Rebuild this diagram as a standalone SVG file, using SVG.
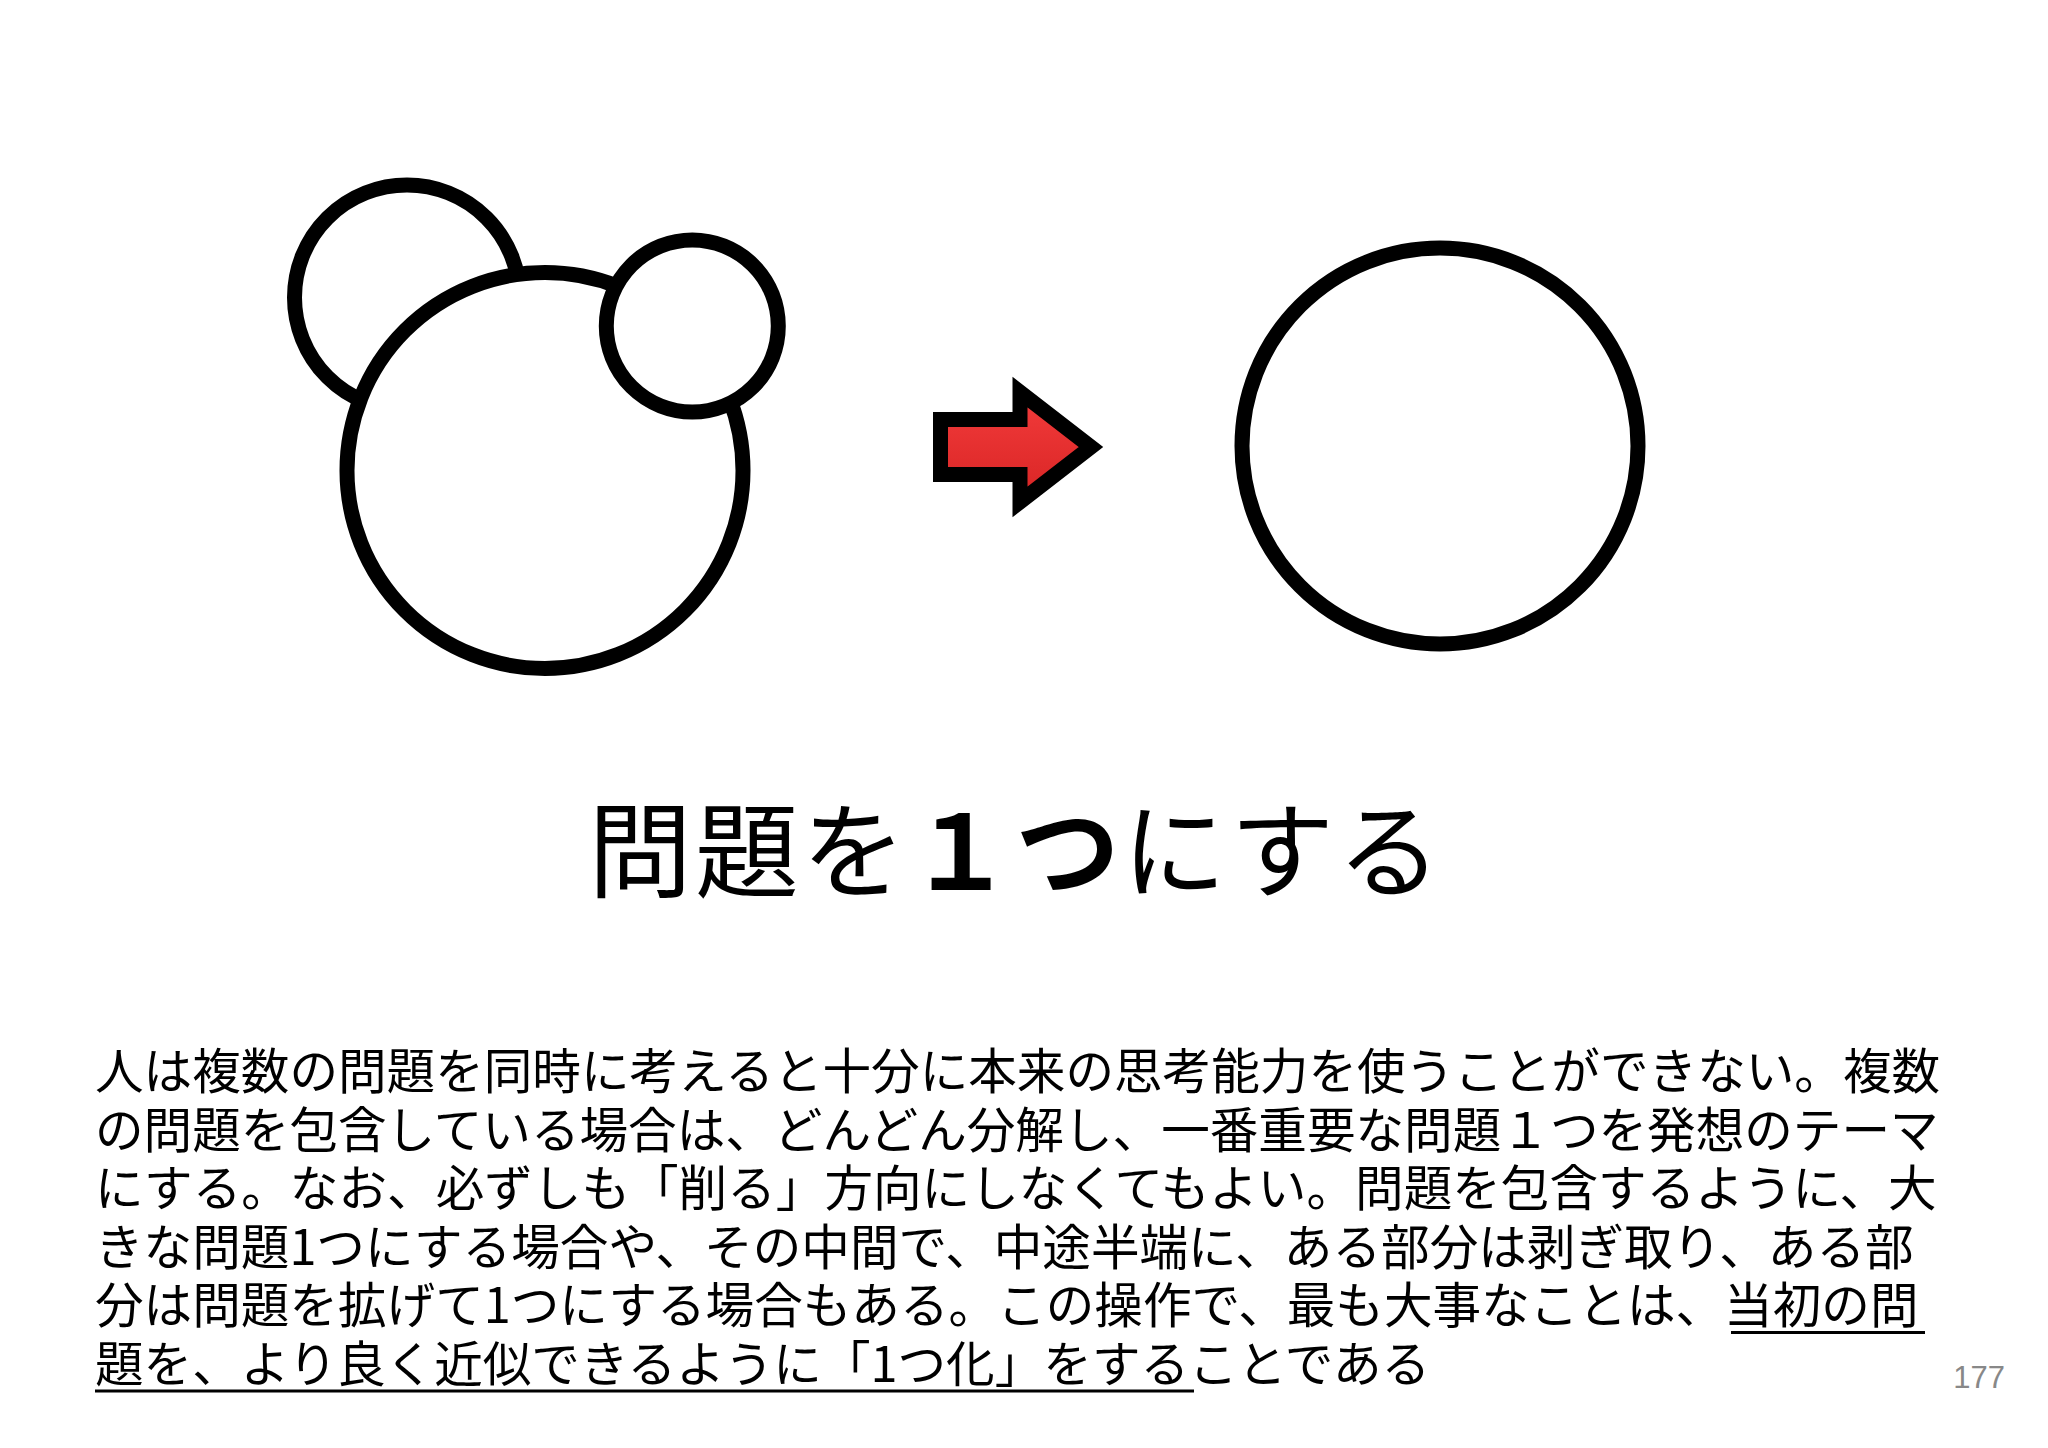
<svg xmlns="http://www.w3.org/2000/svg" width="2048" height="1448" viewBox="0 0 2048 1448">
<defs>
<style>
.c{fill:#fff;stroke:#000;stroke-width:15}
.t{font-family:"Noto Sans CJK JP","Noto Sans",sans-serif;fill:#000}
.b{font-size:48.6px}
.u{stroke:#000;stroke-width:3}
</style>
<linearGradient id="red" x1="0" y1="0" x2="0" y2="1">
<stop offset="0" stop-color="#f33c3c"/>
<stop offset="1" stop-color="#d82424"/>
</linearGradient>
</defs>
<rect width="2048" height="1448" fill="#fff"/>
<g id="left-group">
<circle id="circle-topleft" class="c" cx="407" cy="297.5" r="112.5"/>
<circle id="circle-big" class="c" cx="545" cy="470.5" r="198"/>
<circle id="circle-small" class="c" cx="692.3" cy="326" r="86"/>
</g>
<g id="connectors">
<path id="arrow" d="M940.5,419.5 H1020 V392 L1091,447 L1020,502 V474.5 H940.5 Z" fill="url(#red)" stroke="#000" stroke-width="15" stroke-linejoin="miter" stroke-miterlimit="10"/>
</g>
<g id="right-circle">
<circle class="c" cx="1440" cy="446" r="198"/>
</g>
<g id="title">
<text class="t" x="588" y="890" font-size="104" textLength="853" lengthAdjust="spacing">問題を<tspan font-weight="bold">１つ</tspan>にする</text>
</g>
<g id="body">
<text class="t b"><tspan x="95" y="1089">人は複数の問題を同時に考えると十分に本来の思考能力を使うことができない。複数</tspan><tspan x="95" y="1147.5">の問題を包含している場合は、どんどん分解し、一番重要な問題１つを発想のテーマ</tspan><tspan x="95" y="1206">にする。なお、必ずしも「削る」方向にしなくてもよい。問題を包含するように、大</tspan><tspan x="95" y="1264.5">きな問題1つにする場合や、その中間で、中途半端に、ある部分は剥ぎ取り、ある部</tspan><tspan x="95" y="1323">分は問題を拡げて1つにする場合もある。この操作で、最も大事なことは、当初の問</tspan><tspan x="95" y="1381.5">題を、より良く近似できるように「1つ化」をすることである</tspan></text>
<line class="u" x1="1731" y1="1332.5" x2="1925" y2="1332.5"/>
<line class="u" x1="95" y1="1391" x2="1194" y2="1391"/>
</g>
<g id="page-number">
<text x="2005" y="1388" font-family="Liberation Sans, sans-serif" font-size="31" fill="#888" text-anchor="end">177</text>
</g>
</svg>
